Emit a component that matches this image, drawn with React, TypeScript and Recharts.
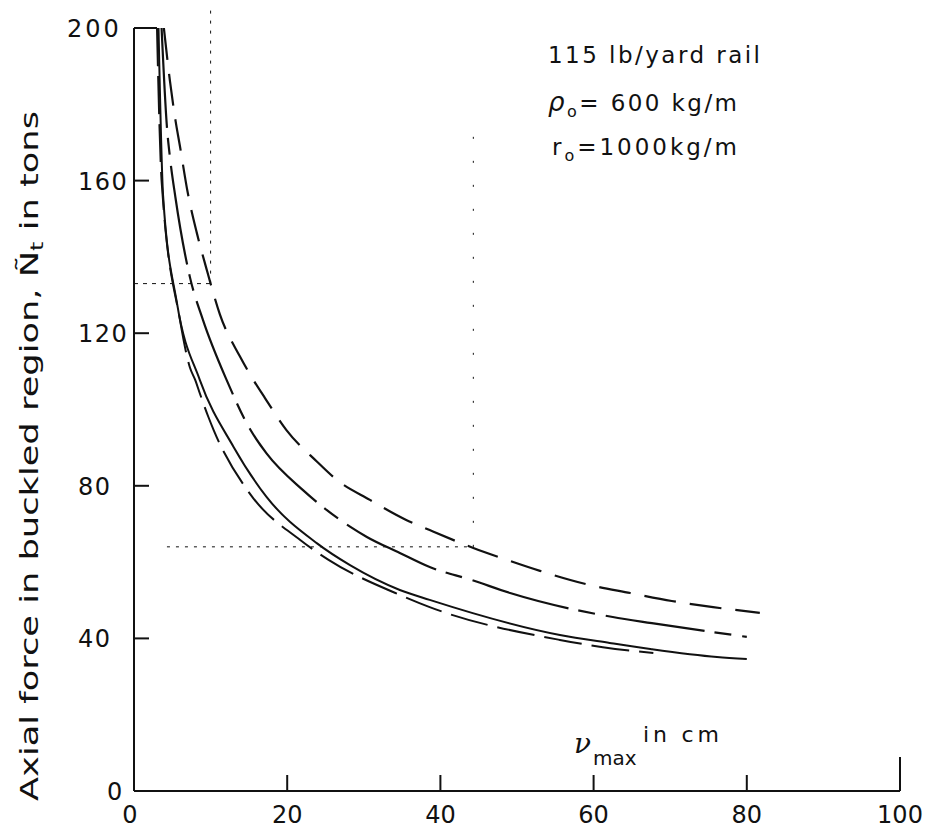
import React from 'react';
import { LineChart, Line, XAxis, YAxis, ReferenceLine } from 'recharts';

const xTicks = [0, 20, 40, 60, 80, 100];
const yTicks = [0, 40, 80, 120, 160, 200];

// upper curve, long dashes
const curveAX = [3.9, 4.7, 5.4, 6.0, 7.0, 8.2, 9.5, 10.0, 11.2, 13.8, 15.6, 17.1, 19.9, 23.9, 26.5, 30.8, 35.6, 38.6, 44.3, 48.8, 53.0, 59.5, 64.8, 70.2, 75.6, 81.7];
const curveAY = [200, 186, 176, 169, 157, 146.3, 136.6, 133, 125, 114, 107.7, 103, 94.6, 86.3, 81.5, 76.3, 71, 68.4, 63.7, 60.5, 57.7, 54, 51.9, 49.8, 48.2, 46.7];

// second curve, long dash / short dash
const curveBX = [3.6, 4.3, 4.7, 5.4, 7.3, 9.0, 12.1, 15.1, 17.3, 22.1, 28.2, 30.4, 34.7, 38.6, 44.1, 49.1, 62.5, 67.6, 80];
const curveBY = [200, 174, 166, 155.7, 134.7, 123.5, 107.7, 95, 88.5, 78.8, 69.3, 66.6, 62.4, 58.7, 55.3, 51.9, 45.6, 44, 40.4];

// third curve, solid
const curveCX = [3.2, 3.8, 5.6, 8.6, 13.0, 17.3, 23.9, 28.2, 34.7, 38.6, 55.6, 62.1, 67.4, 76.1, 80];
const curveCY = [200, 156, 128, 107.7, 90.2, 77.1, 64.9, 59.2, 52.7, 50.1, 40.9, 38.8, 37.2, 35.1, 34.6];

// lowest curve, dashed
const curveDX = [3.0, 3.6, 6.0, 7.3, 8.0, 8.6, 9.7, 10.4, 15.1, 21.7, 25.4, 34.7, 38.6, 55.6, 61.2, 67.8];
const curveDY = [200, 160, 123.5, 111, 107.7, 104.2, 98.1, 94.6, 78, 65.8, 60.6, 51.4, 48.2, 39.6, 37.7, 36.2];

const toPoints = (xs: number[], ys: number[]) => xs.map((x, i) => ({ x, y: ys[i] }));

const dataA = toPoints(curveAX, curveAY);
const dataB = toPoints(curveBX, curveBY);
const dataC = toPoints(curveCX, curveCY);
const dataD = toPoints(curveDX, curveDY);

const INK = '#111';
const FONT = '"DejaVu Sans", sans-serif';

const XTick = (props: any) => {
  const { x, y, payload } = props;
  const v = payload.value;
  const len = v === 100 ? 34 : v === 0 ? 0 : 16;
  return (
    <g>
      {len > 0 && <line x1={x} y1={y} x2={x} y2={y - len} stroke={INK} strokeWidth={2} />}
      <text x={v === 0 ? x - 4 : x} y={y + 32} textAnchor="middle" fontFamily={FONT} fontSize={24} fill={INK}>
        {v}
      </text>
    </g>
  );
};

// hand-lettered labels: two- and three-digit ones start at the same place
const YTick = (props: any) => {
  const { x, y, payload } = props;
  const v = payload.value;
  const len = v === 200 ? 23 : v === 0 ? 0 : 15;
  const start = v === 200 ? x - 67 : v === 0 ? x - 27 : x - 56;
  return (
    <g>
      {len > 0 && <line x1={x} y1={y} x2={x + len} y2={y} stroke={INK} strokeWidth={2} />}
      <text x={start} y={y + 9} textAnchor="start" fontFamily={FONT} fontSize={24} letterSpacing={v === 200 ? 3 : 1.5} fill={INK}>
        {v}
      </text>
    </g>
  );
};

export default function App() {
  return (
    <div style={{ position: 'relative', width: 922, height: 825, background: '#fff' }}>
      <LineChart width={922} height={825} margin={{ top: 20, right: 30, bottom: 12, left: 66 }}>
        <XAxis
          type="number"
          dataKey="x"
          domain={[0, 100]}
          ticks={xTicks}
          interval={0}
          allowDataOverflow
          height={30}
          tickSize={0}
          tickMargin={0}
          tickLine={false}
          axisLine={{ stroke: INK, strokeWidth: 2 }}
          tick={XTick}
        />
        <YAxis
          type="number"
          domain={[0, 200]}
          ticks={yTicks}
          interval={0}
          allowDataOverflow
          width={60}
          tickSize={0}
          tickMargin={0}
          tickLine={false}
          axisLine={{ stroke: INK, strokeWidth: 2 }}
          tick={YTick}
        />
        <ReferenceLine segment={[{ x: 0, y: 133 }, { x: 10, y: 133 }]} stroke={INK} strokeWidth={1} strokeDasharray="4 5" ifOverflow="visible" />
        <ReferenceLine segment={[{ x: 10, y: 133 }, { x: 10, y: 205 }]} stroke={INK} strokeWidth={1} strokeDasharray="3 7" ifOverflow="visible" />
        <ReferenceLine segment={[{ x: 4.3, y: 64 }, { x: 44.3, y: 64 }]} stroke={INK} strokeWidth={1} strokeDasharray="3 6" ifOverflow="visible" />
        <ReferenceLine segment={[{ x: 44.3, y: 64 }, { x: 44.3, y: 175 }]} stroke={INK} strokeWidth={1} strokeDasharray="2 22" ifOverflow="visible" />
        <Line data={dataA} dataKey="y" type="monotone" dot={false} stroke={INK} strokeWidth={2.2} strokeDasharray="32 14" isAnimationActive={false} />
        <Line data={dataB} dataKey="y" type="monotone" dot={false} stroke={INK} strokeWidth={2.2} strokeDasharray="100 10 17 11" isAnimationActive={false} />
        <Line data={dataC} dataKey="y" type="monotone" dot={false} stroke={INK} strokeWidth={2} isAnimationActive={false} />
        <Line data={dataD} dataKey="y" type="monotone" dot={false} stroke={INK} strokeWidth={2} strokeDasharray="38 10" isAnimationActive={false} />
      </LineChart>
      <svg width={922} height={825} style={{ position: 'absolute', left: 0, top: 0, pointerEvents: 'none' }}>
        <g transform="translate(30,448) rotate(-90)">
          <text x={0} y={0} textAnchor="middle" fontFamily={FONT} fontSize={25} fill={INK} textLength={690} lengthAdjust="spacingAndGlyphs">
            Axial force in buckled region, Ñ<tspan fontSize={17} dy={5}>t</tspan><tspan dy={-5}>  in tons</tspan>
          </text>
        </g>
        <g fontFamily={FONT} fill={INK} fontSize={23}>
          <text x={540} y={55} textLength={212} lengthAdjust="spacing">115 lb/yard  rail</text>
          <text x={540} y={103} textLength={189} lengthAdjust="spacing">
            <tspan fontStyle="italic" fontSize={26}>ρ</tspan>
            <tspan fontSize={16} dy={6}>o</tspan>
            <tspan dy={-6}>= 600 kg/m</tspan>
          </text>
          <text x={544} y={147} textLength={185} lengthAdjust="spacing">
            r<tspan fontSize={16} dy={6}>o</tspan>
            <tspan dy={-6}>=1000kg/m</tspan>
          </text>
          <text x={566} y={745} fontFamily='"DejaVu Serif", serif' fontStyle="italic" fontSize={28}>ν</text>
          <text x={585} y={757} fontSize={20}>max</text>
          <text x={635} y={734} fontSize={22} textLength={76} lengthAdjust="spacing">in cm</text>
        </g>
      </svg>
    </div>
  );
}
